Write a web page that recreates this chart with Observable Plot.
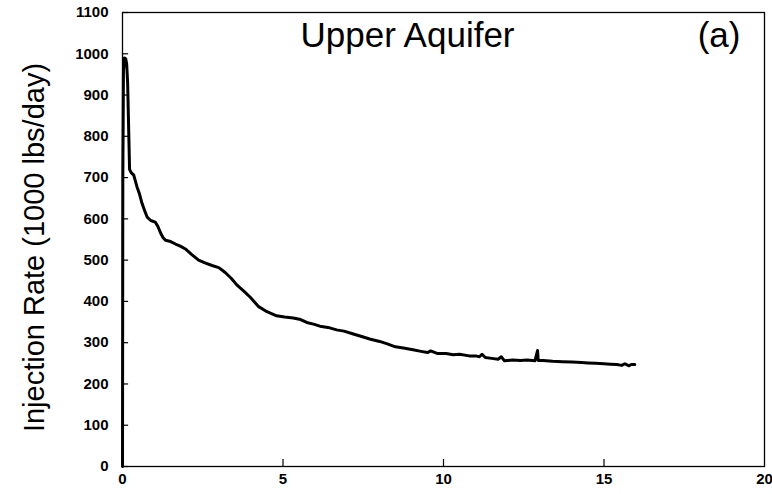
<!DOCTYPE html>
<html>
<head>
<meta charset="utf-8">
<script src="https://cdn.jsdelivr.net/npm/d3@7"></script>
<script src="https://cdn.jsdelivr.net/npm/@observablehq/plot@0.6"></script>
<style>
  html, body { margin: 0; padding: 0; background: #fff; }
  svg { display: block; overflow: visible; }
</style>
</head>
<body>
<div id="chart"></div>
<script>
// Time (x, units of 0-20) and injection rate (1000 lbs/day)
const timeValues = [0, 0.01, 0.03, 0.06, 0.1, 0.13, 0.16, 0.18, 0.2, 0.22, 0.27, 0.35, 0.45, 0.53, 0.61, 0.7, 0.77, 0.88, 1.02, 1.1, 1.18, 1.26, 1.34, 1.5, 1.65, 1.8, 1.96, 2.15, 2.37, 2.55, 2.79, 3.0, 3.2, 3.4, 3.56, 3.78, 3.98, 4.23, 4.5, 4.8, 5.05, 5.32, 5.55, 5.74, 5.95, 6.15, 6.4, 6.67, 6.9, 7.19, 7.45, 7.7, 8.01, 8.25, 8.5, 8.75, 9.05, 9.3, 9.5, 9.6, 9.8, 10.08, 10.3, 10.5, 10.8, 11.0, 11.12, 11.2, 11.3, 11.5, 11.7, 11.8, 11.9, 12.15, 12.4, 12.6, 12.85, 12.93, 12.95, 13.1, 13.4, 13.7, 14.0, 14.3, 14.5, 14.74, 15.0, 15.2, 15.4, 15.55, 15.65, 15.78, 15.85, 15.96];
const rateValues = [0, 700, 960, 990, 988, 975, 930, 860, 790, 720, 712, 706, 678, 660, 637, 618, 604, 596, 592, 582, 567, 555, 548, 545, 539, 534, 527, 514, 500, 494, 487, 482, 470, 455, 440, 425, 410, 388, 375, 365, 362, 360, 356, 349, 345, 340, 337, 331, 328, 321, 315, 309, 303, 297, 290, 287, 283, 279, 276, 280, 274, 274, 271, 272, 268, 268, 266, 272, 264, 262, 260, 266, 256, 258, 257, 258, 256, 281, 257, 257, 255, 254, 253, 252, 251, 250, 249, 248, 247, 245, 249, 244, 247, 247];

const xTicks = [0, 5, 10, 15, 20];
const xInnerTicks = [5, 10, 15];
const yTicks = [0, 100, 200, 300, 400, 500, 600, 700, 800, 900, 1000, 1100];

const titleText = "Upper Aquifer";
const panelText = "(a)";
const yLabelText = "Injection Rate (1000 lbs/day)";

const data = timeValues.map((t, i) => ({t, r: rateValues[i]}));

const font = "'Liberation Sans', Arial, Helvetica, sans-serif";

const plot = Plot.plot({
  width: 772,
  height: 494,
  marginLeft: 122,
  marginRight: 8,
  marginTop: 12,
  marginBottom: 28,
  style: {fontFamily: font, background: "#fff", color: "#000", overflow: "visible"},
  x: {domain: [0, 20], ticks: xTicks},
  y: {domain: [0, 1100], ticks: yTicks},
  marks: [
    Plot.frame({stroke: "#000", strokeWidth: 1.3}),
    // inward y ticks
    Plot.ruleY(yTicks, {y: d => d, x1: 0, x2: 0.19, stroke: "#000", strokeWidth: 1.2}),
    // inward x ticks
    Plot.ruleX(xInnerTicks, {x: d => d, y1: 0, y2: 17, stroke: "#000", strokeWidth: 1.2}),
    Plot.axisX({ticks: xTicks, tickSize: 0, tickPadding: 7, label: null, fontSize: 15, fontWeight: "bold", tickFormat: d => String(d)}),
    Plot.axisY({ticks: yTicks, tickSize: 0, tickPadding: 14, label: null, fontSize: 15, fontWeight: "bold", tickFormat: d => String(d)}),
    Plot.line(data, {x: "t", y: "r", stroke: "#000", strokeWidth: 3, strokeLinejoin: "round", strokeLinecap: "round"}),
    Plot.text([titleText], {text: d => d, frameAnchor: "top", lineAnchor: "top", dx: -36, dy: 10, fontSize: 35, fill: "#000"}),
    Plot.text([panelText], {text: d => d, frameAnchor: "top-right", lineAnchor: "top", textAnchor: "end", dx: -24, dy: 10, fontSize: 35, fill: "#000"}),
    Plot.text([yLabelText], {text: d => d, frameAnchor: "left", textAnchor: "middle", lineAnchor: "middle", rotate: -90, dx: -88, dy: 8, fontSize: 29, fill: "#000"})
  ]
});

document.getElementById("chart").appendChild(plot);
</script>
</body>
</html>
